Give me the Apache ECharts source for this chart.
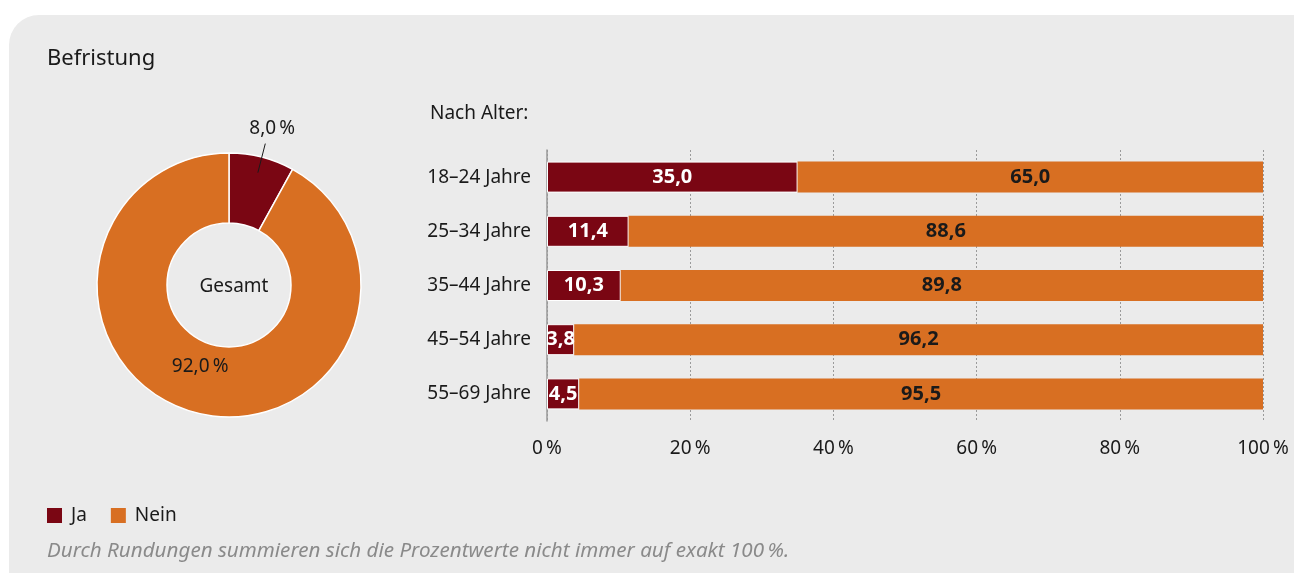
<!DOCTYPE html>
<html><head><meta charset="utf-8">
<script src="https://cdn.jsdelivr.net/npm/echarts@6/dist/echarts.min.js"></script>
<style>html,body{margin:0;padding:0;background:#fff}#c{width:1294px;height:573px}</style>
</head><body><div id="c"></div>
<script>
const categories = ['18–24 Jahre','25–34 Jahre','35–44 Jahre','45–54 Jahre','55–69 Jahre'];
const jaValues = [35.0, 11.4, 10.3, 3.8, 4.5];
const neinValues = [65.0, 88.6, 89.8, 96.2, 95.5];
const pieNames = ['Ja','Nein'];
const pieValues = [8.0, 92.0];
const xTicks = [0, 20, 40, 60, 80, 100];

const RED = '#7a0613', ORANGE = '#d86f22';
const FONT = '"Noto Sans", "Open Sans", sans-serif';
const fmt = v => v.toFixed(1).replace('.', ',');
const NS = '\u202F';

const chart = echarts.init(document.getElementById('c'));
chart.setOption({
  animation: false,
  textStyle: { fontFamily: FONT },
  graphic: [{
    type: 'rect', z: -100, silent: true,
    shape: { x: 9, y: 15, width: 1300, height: 570, r: [30, 0, 0, 0] },
    style: { fill: '#ebebeb' }
  }],
  title: [
    { text: 'Befristung', left: 42, top: 43, textStyle: { fontFamily: FONT, fontSize: 22, fontWeight: 'normal', color: '#1a1a1a' } },
    { text: 'Nach Alter:', left: 425, top: 99, textStyle: { fontFamily: FONT, fontSize: 19, fontWeight: 'normal', color: '#1a1a1a' } },
    { text: 'Gesamt', left: 229, top: 272, textAlign: 'center', textStyle: { fontFamily: FONT, fontSize: 19, fontWeight: 'normal', color: '#1a1a1a' } },
    { text: 'Durch Rundungen summieren sich die Prozentwerte nicht immer auf exakt 100' + NS + '%.', left: 42, top: 536,
      textStyle: { fontFamily: FONT, fontSize: 20.6, fontStyle: 'italic', fontWeight: 'normal', color: '#8a8a8a' } }
  ],
  legend: {
    data: ['Ja', 'Nein'], left: 42, top: 501, icon: 'rect', itemWidth: 15, itemHeight: 15, itemGap: 24,
    itemStyle: { borderWidth: 0 },
    textStyle: { fontFamily: FONT, fontSize: 19, color: '#1a1a1a', padding: [0, 0, 0, 4] }
  },
  grid: { left: 547, right: 31, top: 150, height: 271 },
  xAxis: {
    type: 'value', min: 0, max: 100, interval: 20,
    axisLine: { show: false }, axisTick: { show: false },
    splitLine: { show: true, lineStyle: { color: '#9a9a9a', type: [2, 2], width: 1 } },
    axisLabel: { fontFamily: FONT, fontSize: 19, color: '#1a1a1a', margin: 18,
      formatter: v => xTicks.includes(v) ? v + NS + '%' : '' }
  },
  yAxis: {
    type: 'category', data: categories, inverse: true,
    axisLine: { show: true, lineStyle: { color: '#999', width: 1.5 } },
    axisTick: { show: false },
    axisLabel: { fontFamily: FONT, fontSize: 19, color: '#1a1a1a', margin: 16 }
  },
  series: [
    {
      name: 'Ja', type: 'bar', stack: 'a', data: jaValues, barWidth: 31,
      itemStyle: { color: RED, borderColor: '#fff', borderWidth: 1 },
      label: { show: true, position: 'inside', color: '#fff', fontFamily: FONT, fontSize: 20, fontWeight: 'bold', formatter: p => fmt(p.value) }
    },
    {
      name: 'Nein', type: 'bar', stack: 'a', data: neinValues, barWidth: 31,
      itemStyle: { color: ORANGE },
      label: { show: true, position: 'inside', color: '#1a1a1a', fontFamily: FONT, fontSize: 20, fontWeight: 'bold', formatter: p => fmt(p.value) }
    },
    {
      type: 'pie', center: [229, 285], radius: [62, 132], startAngle: 90, clockwise: true,
      data: pieNames.map((n, i) => ({ name: n, value: pieValues[i] })),
      color: [RED, ORANGE],
      itemStyle: { borderColor: '#fff', borderWidth: 1.5 },
      label: { show: true, position: 'inside', fontFamily: FONT, fontSize: 19, color: '#1a1a1a',
        formatter: p => p.dataIndex === 0 ? '' : fmt(p.value) + NS + '%' },
      labelLine: { show: false },
      labelLayout: p => p.dataIndex === 1 ? { dx: -4, dy: -15 } : {},
      silent: true
    },
    {
      type: 'pie', center: [229, 285], radius: [0, 116], startAngle: 90, clockwise: true, silent: true,
      data: pieNames.map((n, i) => ({
        name: n + ' ', value: pieValues[i],
        label: { show: i === 0 }, labelLine: { show: i === 0 }
      })),
      itemStyle: { color: 'rgba(0,0,0,0)' },
      label: { position: 'outside', fontFamily: FONT, fontSize: 19, color: '#1a1a1a', distanceToLabelLine: 0,
        formatter: p => fmt(p.value) + NS + '%' },
      labelLine: { length: 30, length2: 0, smooth: false, lineStyle: { color: '#1a1a1a', width: 1 } },
      labelLayout: p => p.dataIndex === 0 ? { dx: -16, dy: -15 } : {},
      emphasis: { disabled: true },
      z: 5
    }
  ]
});
</script></body></html>
